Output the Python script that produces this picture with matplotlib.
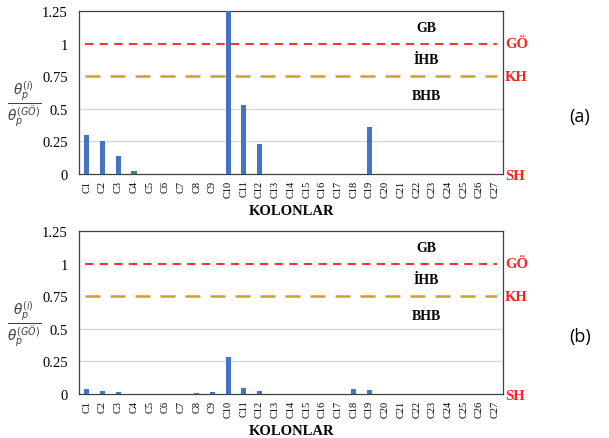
import matplotlib.pyplot as plt

columns = [f"C{i}" for i in range(1, 28)]
ratio_a = [0.30, 0.25, 0.14, 0.02, 0, 0, 0, 0, 0, 1.30, 0.53, 0.23, 0, 0, 0, 0, 0, 0, 0.36,
           0, 0, 0, 0, 0, 0, 0, 0]
ratio_b = [0.04, 0.025, 0.012, 0, 0, 0, 0, 0.008, 0.015, 0.285, 0.048, 0.02, 0, 0, 0, 0, 0,
           0.04, 0.03, 0, 0, 0, 0, 0, 0, 0, 0]
yticks = [0, 0.25, 0.5, 0.75, 1, 1.25]
yticklabels = ["0", "0.25", "0.5", "0.75", "1", "1.25"]
zones = [("GB", 1.125), ("İHB", 0.875), ("BHB", 0.6)]
limits = [("GÖ", 1.0), ("KH", 0.75), ("SH", -0.01)]
panels = [("(a)", ratio_a), ("(b)", ratio_b)]

serif = "Liberation Serif"
fig = plt.figure(figsize=(6.09, 4.39), dpi=100)
W, H = 609, 439
tops = [12, 232]

for (tag, vals), top in zip(panels, tops):
    ax = fig.add_axes([79 / W, 1 - (top + 163) / H, 424 / W, 163 / H])
    x = range(len(columns))
    ax.bar(x, vals, width=0.33, color="#4472C4", zorder=3)
    ax.set_xlim(-0.5, len(columns) - 0.5)
    ax.set_ylim(0, 1.25)
    ax.set_yticks(yticks)
    ax.set_yticklabels(yticklabels, fontfamily=serif, fontsize=10.5)
    ax.set_xticks(list(x))
    ax.set_xticklabels(columns, rotation=90, fontfamily=serif, fontsize=7.5)
    ax.tick_params(length=0, pad=4)
    ax.tick_params(axis="y", pad=8)
    for y in [0.25, 0.5]:
        ax.axhline(y, color="#D9D9D9", lw=1, zorder=1)
    ax.axhline(1.0, xmin=0.015, xmax=0.985, color="#FF3333", lw=1.5,
               dashes=(4, 3), zorder=4)
    ax.axhline(0.75, xmin=0.015, xmax=0.985, color="#C9A227", lw=1.8,
               dashes=(6, 4), zorder=4)
    for sp in ax.spines.values():
        sp.set_color("#404040")
        sp.set_linewidth(0.9)
    for txt, y in zones:
        ax.text(0.82, y, txt, transform=ax.get_yaxis_transform(), ha="center",
                va="center", fontfamily=serif, fontweight="bold", fontsize=10)
    for txt, y in limits:
        ax.text(1.005, y, txt, transform=ax.get_yaxis_transform(), ha="left",
                va="center", fontfamily=serif, fontweight="bold", fontsize=10.5,
                color="#FF2020")
    ax.set_xlabel("KOLONLAR", fontfamily=serif, fontweight="bold", fontsize=10.5,
                  labelpad=5)
    ax.text(-0.13, 0.43, r"$\frac{\theta_p^{(i)}}{\theta_p^{(GÖ)}}$",
            transform=ax.transAxes, ha="center", va="center", fontsize=14,
            color="#404040")
    fig.text(580 / W, 1 - (top + 105) / H, tag, ha="center", va="center",
             fontfamily="Open Sans", fontsize=13)

fig.savefig("out.png", dpi=100)
